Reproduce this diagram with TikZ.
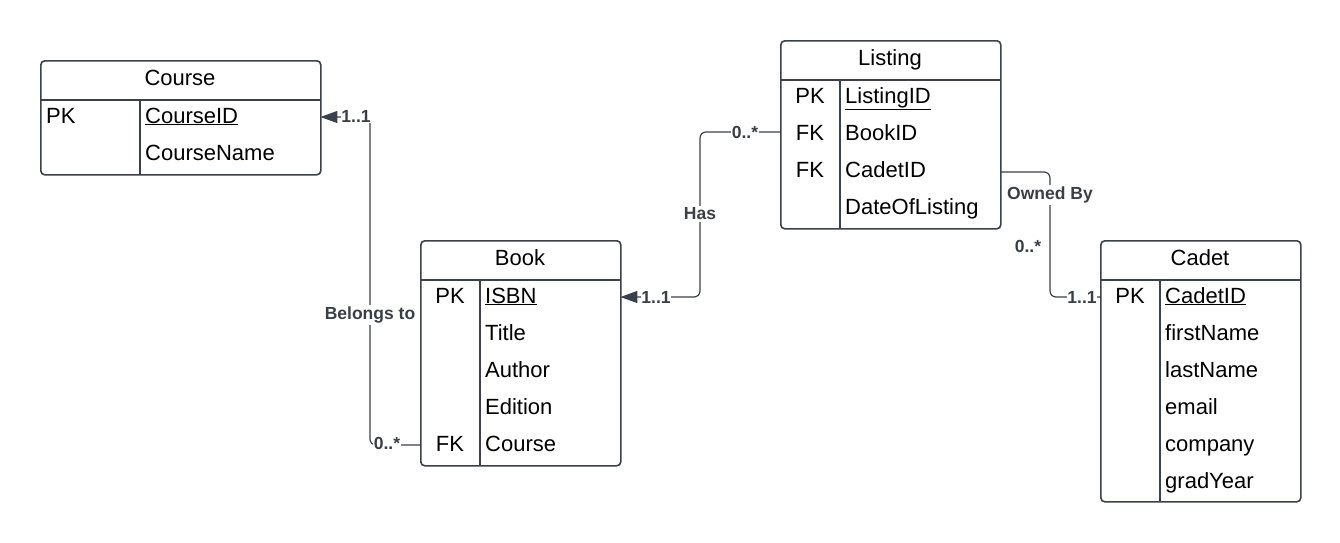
\documentclass[tikz,border=0pt]{standalone}
\usepackage{fontspec}
\setmainfont{Liberation Sans}
\usetikzlibrary{arrows.meta}
\definecolor{edgegray}{HTML}{3A414A}
\definecolor{lblgray}{HTML}{3A3F45}
\begin{document}
\begin{tikzpicture}[x=1pt,y=-1pt,
  tablebox/.style={draw=edgegray, line width=1.6pt, rounded corners=4pt, inner sep=0pt, anchor=north west},
  rule/.style={draw=edgegray, line width=1.6pt},
  head/.style={font=\fontsize{22}{26}\selectfont, inner sep=0pt, anchor=base},
  keycol/.style={font=\fontsize{22}{26}\selectfont, inner sep=0pt, anchor=base},
  attr/.style={font=\fontsize{22}{26}\selectfont, inner sep=0pt, anchor=base west},
  rowslot/.style={inner sep=0pt, minimum height=30pt, anchor=west},
  conn/.style={draw=edgegray, line width=1.2pt, rounded corners=6pt},
  tip/.style={-{Triangle[length=17pt,width=12pt]}},
  mult/.style={font=\fontsize{17.5}{20}\selectfont\bfseries, text=lblgray, fill=white, inner sep=0.5pt},
  rel/.style={font=\fontsize{17.5}{20}\selectfont\bfseries, text=lblgray, fill=white, inner sep=2pt}
]
\useasboundingbox (0,0) rectangle (1340,542);

% ---------- Course ----------
\node[tablebox, minimum width=280pt, minimum height=114pt] (course) at (40,60) {};
\draw[rule] (40,100) -- (320,100);
\draw[rule] (140,100) -- (140,174);
\node[head] (courseT) at (180,85) {Course};
\node[attr] (courseK1) at (46,123) {PK};
\node[attr] (courseA1) at (145,123) {\underline{CourseID}};
\node[attr] (courseA2) at (145,160) {CourseName};
\node[rowslot, minimum width=280pt] (courseR1) at (40,117) {};

% ---------- Book ----------
\node[tablebox, minimum width=200pt, minimum height=225pt] (book) at (420,240) {};
\draw[rule] (420,280) -- (620,280);
\draw[rule] (480,280) -- (480,465);
\node[head] (bookT) at (520,265) {Book};
\node[keycol] (bookK1) at (450,303) {PK};
\node[attr] (bookA1) at (485,303) {\underline{ISBN}};
\node[attr] (bookA2) at (485,340) {Title};
\node[attr] (bookA3) at (485,377) {Author};
\node[attr] (bookA4) at (485,414) {Edition};
\node[keycol] (bookK5) at (450,451) {FK};
\node[attr] (bookA5) at (485,451) {Course};
\node[rowslot, minimum width=200pt] (bookR1) at (420,297) {};
\node[rowslot, minimum width=200pt] (bookR5) at (420,445) {};

% ---------- Listing ----------
\node[tablebox, minimum width=220pt, minimum height=188pt] (listing) at (780,40) {};
\draw[rule] (780,80) -- (1000,80);
\draw[rule] (840,80) -- (840,228);
\node[head] (listingT) at (890,65) {Listing};
\node[keycol] (listingK1) at (810,103) {PK};
\node[attr] (listingA1) at (845,103) {\underline{ListingID}};
\node[keycol] (listingK2) at (810,140) {FK};
\node[attr] (listingA2) at (845,140) {BookID};
\node[keycol] (listingK3) at (810,177) {FK};
\node[attr] (listingA3) at (845,177) {CadetID};
\node[attr] (listingA4) at (845,214) {DateOfListing};
\node[rowslot, minimum width=220pt] (listingR2) at (780,132) {};
\node[rowslot, minimum width=220pt] (listingR3) at (780,172) {};

% ---------- Cadet ----------
\node[tablebox, minimum width=200pt, minimum height=261pt] (cadet) at (1100,240) {};
\draw[rule] (1100,280) -- (1300,280);
\draw[rule] (1160,280) -- (1160,501);
\node[head] (cadetT) at (1200,265) {Cadet};
\node[keycol] (cadetK1) at (1130,303) {PK};
\node[attr] (cadetA1) at (1165,303) {\underline{CadetID}};
\node[attr] (cadetA2) at (1165,340) {firstName};
\node[attr] (cadetA3) at (1165,377) {lastName};
\node[attr] (cadetA4) at (1165,414) {email};
\node[attr] (cadetA5) at (1165,451) {company};
\node[attr] (cadetA6) at (1165,488) {gradYear};
\node[rowslot, minimum width=200pt] (cadetR1) at (1100,297) {};

% ---------- Relationships ----------
% Book belongs to Course
\draw[conn, tip] (bookR5.west) -- (370,445) -- (370,117) -- (courseR1.east);
\node[rel] (belongs) at (370,315) {Belongs to};
\node[mult] (m1a) at (356,116) {1..1};
\node[mult] (m1b) at (387,443) {0..*};

% Listing has Book
\draw[conn, tip] (listingR2.west) -- (700,132) -- (700,297) -- (bookR1.east);
\node[rel] (has) at (700,214) {Has};
\node[mult] (m2a) at (745,132) {0..*};
\node[mult] (m2b) at (656,297) {1..1};

% Listing owned by Cadet
\draw[conn] (listingR3.east) -- (1050,172) -- (1050,297) -- (cadetR1.west);
\node[rel] (owned) at (1050,195) {Owned By};
\node[mult, fill=none] (m3a) at (1028,246) {0..*};
\node[mult] (m3b) at (1082,297) {1..1};
\end{tikzpicture}
\end{document}
